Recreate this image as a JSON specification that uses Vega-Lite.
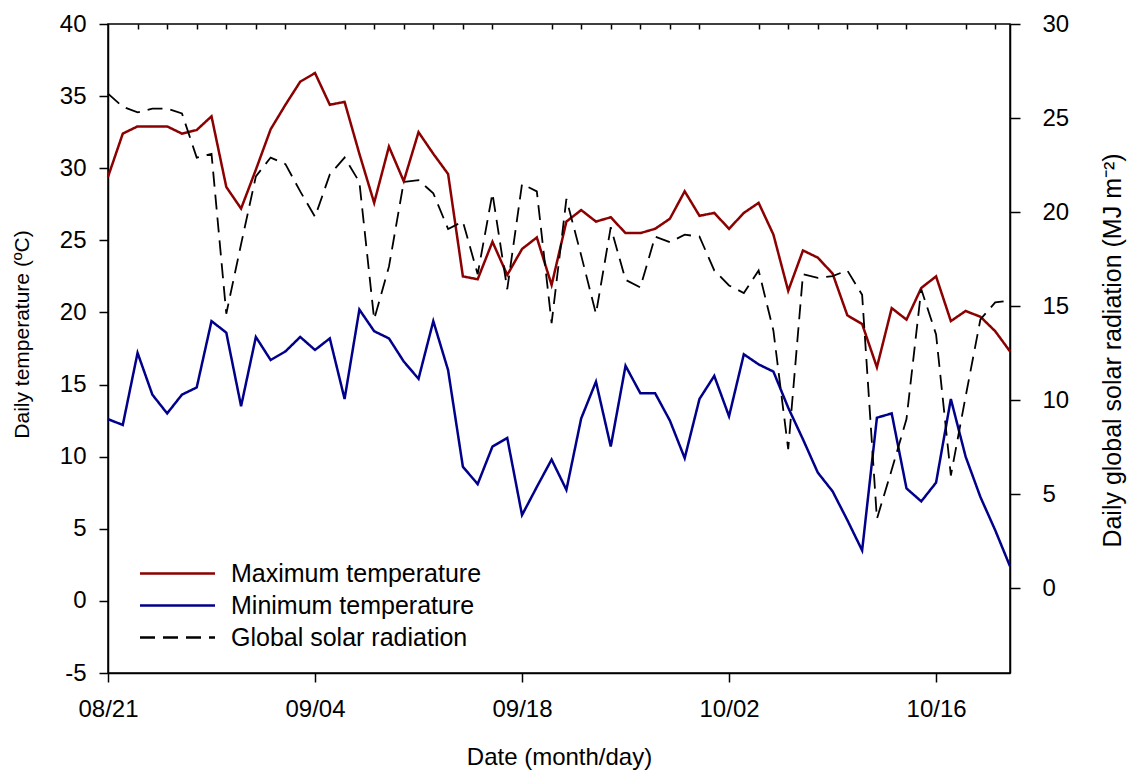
{
  "$schema": "https://vega.github.io/schema/vega-lite/v6.json",
  "width": 902,
  "height": 649,
  "autosize": "none",
  "padding": {"left": 108, "top": 24, "right": 124, "bottom": 103},
  "background": "white",
  "config": {
    "font": "Liberation Sans",
    "view": {"stroke": "black", "strokeWidth": 1.5},
    "axis": {
      "grid": false,
      "domainColor": "black",
      "tickColor": "black",
      "labelColor": "black",
      "titleColor": "black",
      "labelFont": "Liberation Sans",
      "titleFont": "Liberation Sans",
      "titleFontWeight": "normal",
      "labelFontSize": 24,
      "titleFontSize": 24,
      "domainWidth": 1.5,
      "tickWidth": 1.5
    }
  },
  "data": {
    "values": [
      {"date": "2021-08-21", "tmax": 29.4, "tmin": 12.6, "rad": 26.3},
      {"date": "2021-08-22", "tmax": 32.4, "tmin": 12.2, "rad": 25.6},
      {"date": "2021-08-23", "tmax": 32.9, "tmin": 17.2, "rad": 25.3},
      {"date": "2021-08-24", "tmax": 32.9, "tmin": 14.3, "rad": 25.5},
      {"date": "2021-08-25", "tmax": 32.9, "tmin": 13.0, "rad": 25.5},
      {"date": "2021-08-26", "tmax": 32.4, "tmin": 14.3, "rad": 25.25},
      {"date": "2021-08-27", "tmax": 32.65, "tmin": 14.8, "rad": 22.9},
      {"date": "2021-08-28", "tmax": 33.6, "tmin": 19.4, "rad": 23.1},
      {"date": "2021-08-29", "tmax": 28.7, "tmin": 18.6, "rad": 14.6},
      {"date": "2021-08-30", "tmax": 27.2, "tmin": 13.5, "rad": 18.3},
      {"date": "2021-08-31", "tmax": 29.9, "tmin": 18.3, "rad": 21.9},
      {"date": "2021-09-01", "tmax": 32.7, "tmin": 16.7, "rad": 22.9},
      {"date": "2021-09-02", "tmax": 34.4, "tmin": 17.3, "rad": 22.55},
      {"date": "2021-09-03", "tmax": 36.0, "tmin": 18.3, "rad": 21.1},
      {"date": "2021-09-04", "tmax": 36.6, "tmin": 17.4, "rad": 19.75},
      {"date": "2021-09-05", "tmax": 34.4, "tmin": 18.2, "rad": 22.0},
      {"date": "2021-09-06", "tmax": 34.6, "tmin": 14.0, "rad": 22.9},
      {"date": "2021-09-07", "tmax": 31.0, "tmin": 20.2, "rad": 21.6},
      {"date": "2021-09-08", "tmax": 27.6, "tmin": 18.7, "rad": 14.3},
      {"date": "2021-09-09", "tmax": 31.5, "tmin": 18.2, "rad": 17.1},
      {"date": "2021-09-10", "tmax": 29.1, "tmin": 16.6, "rad": 21.6},
      {"date": "2021-09-11", "tmax": 32.5, "tmin": 15.4, "rad": 21.7},
      {"date": "2021-09-12", "tmax": 31.0, "tmin": 19.4, "rad": 21.0},
      {"date": "2021-09-13", "tmax": 29.6, "tmin": 16.0, "rad": 19.1},
      {"date": "2021-09-14", "tmax": 22.5, "tmin": 9.3, "rad": 19.5},
      {"date": "2021-09-15", "tmax": 22.3, "tmin": 8.1, "rad": 16.7},
      {"date": "2021-09-16", "tmax": 24.9, "tmin": 10.7, "rad": 21.0},
      {"date": "2021-09-17", "tmax": 22.6, "tmin": 11.3, "rad": 15.9},
      {"date": "2021-09-18", "tmax": 24.4, "tmin": 5.95, "rad": 21.5},
      {"date": "2021-09-19", "tmax": 25.2, "tmin": 7.9, "rad": 21.1},
      {"date": "2021-09-20", "tmax": 21.9, "tmin": 9.8, "rad": 14.1},
      {"date": "2021-09-21", "tmax": 26.3, "tmin": 7.7, "rad": 20.7},
      {"date": "2021-09-22", "tmax": 27.1, "tmin": 12.65, "rad": 17.7},
      {"date": "2021-09-23", "tmax": 26.3, "tmin": 15.2, "rad": 14.6},
      {"date": "2021-09-24", "tmax": 26.6, "tmin": 10.7, "rad": 19.2},
      {"date": "2021-09-25", "tmax": 25.5, "tmin": 16.3, "rad": 16.4},
      {"date": "2021-09-26", "tmax": 25.5, "tmin": 14.4, "rad": 16.0},
      {"date": "2021-09-27", "tmax": 25.8, "tmin": 14.4, "rad": 18.7},
      {"date": "2021-09-28", "tmax": 26.5, "tmin": 12.5, "rad": 18.4},
      {"date": "2021-09-29", "tmax": 28.4, "tmin": 9.9, "rad": 18.8},
      {"date": "2021-09-30", "tmax": 26.7, "tmin": 14.0, "rad": 18.7},
      {"date": "2021-10-01", "tmax": 26.9, "tmin": 15.6, "rad": 16.9},
      {"date": "2021-10-02", "tmax": 25.8, "tmin": 12.8, "rad": 16.1},
      {"date": "2021-10-03", "tmax": 26.9, "tmin": 17.1, "rad": 15.7},
      {"date": "2021-10-04", "tmax": 27.6, "tmin": 16.4, "rad": 16.9},
      {"date": "2021-10-05", "tmax": 25.4, "tmin": 15.9, "rad": 13.7},
      {"date": "2021-10-06", "tmax": 21.5, "tmin": 13.4, "rad": 7.4},
      {"date": "2021-10-07", "tmax": 24.3, "tmin": 11.2, "rad": 16.7},
      {"date": "2021-10-08", "tmax": 23.8, "tmin": 8.9, "rad": 16.5},
      {"date": "2021-10-09", "tmax": 22.7, "tmin": 7.6, "rad": 16.6},
      {"date": "2021-10-10", "tmax": 19.8, "tmin": 5.6, "rad": 16.9},
      {"date": "2021-10-11", "tmax": 19.2, "tmin": 3.5, "rad": 15.6},
      {"date": "2021-10-12", "tmax": 16.2, "tmin": 12.7, "rad": 3.7},
      {"date": "2021-10-13", "tmax": 20.3, "tmin": 13.0, "rad": 6.3},
      {"date": "2021-10-14", "tmax": 19.5, "tmin": 7.8, "rad": 9.0},
      {"date": "2021-10-15", "tmax": 21.7, "tmin": 6.9, "rad": 15.9},
      {"date": "2021-10-16", "tmax": 22.5, "tmin": 8.2, "rad": 13.5},
      {"date": "2021-10-17", "tmax": 19.4, "tmin": 14.0, "rad": 6.0},
      {"date": "2021-10-18", "tmax": 20.1, "tmin": 10.0, "rad": 10.2},
      {"date": "2021-10-19", "tmax": 19.7, "tmin": 7.2, "rad": 14.3},
      {"date": "2021-10-20", "tmax": 18.7, "tmin": 4.9, "rad": 15.2},
      {"date": "2021-10-21", "tmax": 17.3, "tmin": 2.4, "rad": 15.3}
    ]
  },
  "transform": [{"fold": ["tmax", "tmin", "rad"], "as": ["series", "value"]}],
  "layer": [
    {
      "transform": [{"filter": "datum.series !== 'rad'"}],
      "mark": {"type": "line", "strokeWidth": 2.5},
      "encoding": {
        "x": {
          "field": "date",
          "type": "temporal",
          "scale": {"type": "utc", "domain": [{"year": 2021, "month": 8, "date": 21, "utc": true}, {"year": 2021, "month": 10, "date": 21, "utc": true}]},
          "axis": {
            "values": [
              {"year": 2021, "month": 8, "date": 21, "utc": true},
              {"year": 2021, "month": 9, "date": 4, "utc": true},
              {"year": 2021, "month": 9, "date": 18, "utc": true},
              {"year": 2021, "month": 10, "date": 2, "utc": true},
              {"year": 2021, "month": 10, "date": 16, "utc": true}
            ],
            "labelExpr": "utcFormat(datum.value, '%m/%d')",
            "tickSize": 9,
            "labelPadding": 15,
            "labelFlush": false,
            "labelOverlap": false,
            "title": "Date (month/day)",
            "titleFontSize": 24,
            "titlePadding": 24
          }
        },
        "y": {
          "field": "value",
          "type": "quantitative",
          "scale": {"domain": [-5, 40], "nice": false, "zero": false},
          "axis": {
            "orient": "left",
            "values": [-5, 0, 5, 10, 15, 20, 25, 30, 35, 40],
            "labelExpr": "'' + datum.value",
            "tickSize": 9,
            "labelPadding": 13,
            "title": "Daily temperature (ºC)",
            "titleFontSize": 21,
            "titleAngle": 270,
            "titleX": -86,
            "titleY": 310,
            "titleAlign": "center",
            "titleBaseline": "middle"
          }
        },
        "color": {
          "field": "series",
          "type": "nominal",
          "scale": {"domain": ["tmax", "tmin", "rad"], "range": ["#8b0000", "#00008b", "#000000"]},
          "legend": {
            "orient": "none",
            "legendX": 57,
            "legendY": 537,
            "title": null,
            "labelFont": "Liberation Sans",
            "labelFontSize": 25,
            "labelColor": "black",
            "labelLimit": 500,
            "symbolType": "M-5,0L5,0",
            "symbolSize": 225,
            "symbolStrokeWidth": 2.5,
            "labelOffset": 41,
            "rowPadding": 6,
            "labelExpr": "datum.label == 'tmax' ? 'Maximum temperature' : datum.label == 'tmin' ? 'Minimum temperature' : 'Global solar radiation'"
          }
        },
        "strokeDash": {
          "field": "series",
          "type": "nominal",
          "scale": {"domain": ["tmax", "tmin", "rad"], "range": [[1, 0], [1, 0], [15, 8]]},
          "legend": {
            "orient": "none",
            "legendX": 57,
            "legendY": 537,
            "title": null,
            "labelFont": "Liberation Sans",
            "labelFontSize": 25,
            "labelColor": "black",
            "labelLimit": 500,
            "symbolType": "M-5,0L5,0",
            "symbolSize": 225,
            "symbolStrokeWidth": 2.5,
            "labelOffset": 41,
            "rowPadding": 6,
            "labelExpr": "datum.label == 'tmax' ? 'Maximum temperature' : datum.label == 'tmin' ? 'Minimum temperature' : 'Global solar radiation'"
          }
        }
      }
    },
    {
      "transform": [{"filter": "datum.series === 'rad'"}],
      "mark": {"type": "line", "strokeWidth": 1.8},
      "encoding": {
        "x": {
          "field": "date",
          "type": "temporal",
          "scale": {"type": "utc", "domain": [{"year": 2021, "month": 8, "date": 21, "utc": true}, {"year": 2021, "month": 10, "date": 21, "utc": true}]},
          "axis": {
            "values": [
              {"year": 2021, "month": 8, "date": 23, "utc": true},
              {"year": 2021, "month": 8, "date": 25, "utc": true},
              {"year": 2021, "month": 8, "date": 27, "utc": true},
              {"year": 2021, "month": 8, "date": 29, "utc": true},
              {"year": 2021, "month": 8, "date": 31, "utc": true},
              {"year": 2021, "month": 9, "date": 2, "utc": true},
              {"year": 2021, "month": 9, "date": 6, "utc": true},
              {"year": 2021, "month": 9, "date": 8, "utc": true},
              {"year": 2021, "month": 9, "date": 10, "utc": true},
              {"year": 2021, "month": 9, "date": 12, "utc": true},
              {"year": 2021, "month": 9, "date": 14, "utc": true},
              {"year": 2021, "month": 9, "date": 16, "utc": true},
              {"year": 2021, "month": 9, "date": 20, "utc": true},
              {"year": 2021, "month": 9, "date": 22, "utc": true},
              {"year": 2021, "month": 9, "date": 24, "utc": true},
              {"year": 2021, "month": 9, "date": 26, "utc": true},
              {"year": 2021, "month": 9, "date": 28, "utc": true},
              {"year": 2021, "month": 9, "date": 30, "utc": true},
              {"year": 2021, "month": 10, "date": 4, "utc": true},
              {"year": 2021, "month": 10, "date": 6, "utc": true},
              {"year": 2021, "month": 10, "date": 8, "utc": true},
              {"year": 2021, "month": 10, "date": 10, "utc": true},
              {"year": 2021, "month": 10, "date": 12, "utc": true},
              {"year": 2021, "month": 10, "date": 14, "utc": true},
              {"year": 2021, "month": 10, "date": 18, "utc": true},
              {"year": 2021, "month": 10, "date": 20, "utc": true}
            ],
            "labels": false,
            "domain": false,
            "tickSize": -5,
            "title": null
          }
        },
        "y": {
          "field": "value",
          "type": "quantitative",
          "scale": {"domain": [-4.5, 30], "nice": false, "zero": false},
          "axis": {
            "orient": "right",
            "values": [0, 5, 10, 15, 20, 25, 30],
            "tickSize": 10,
            "labelPadding": 22,
            "title": "Daily global solar radiation (MJ m⁻²)",
            "titleFontSize": 25,
            "titleAngle": 270,
            "titleX": 102,
            "titleY": 326,
            "titleAlign": "center",
            "titleBaseline": "middle"
          }
        },
        "color": {"field": "series", "type": "nominal", "scale": {"domain": ["tmax", "tmin", "rad"], "range": ["#8b0000", "#00008b", "#000000"]}},
        "strokeDash": {"field": "series", "type": "nominal", "scale": {"domain": ["tmax", "tmin", "rad"], "range": [[1, 0], [1, 0], [15, 8]]}}
      }
    }
  ],
  "resolve": {"scale": {"y": "independent"}, "axis": {"x": "independent"}}
}
